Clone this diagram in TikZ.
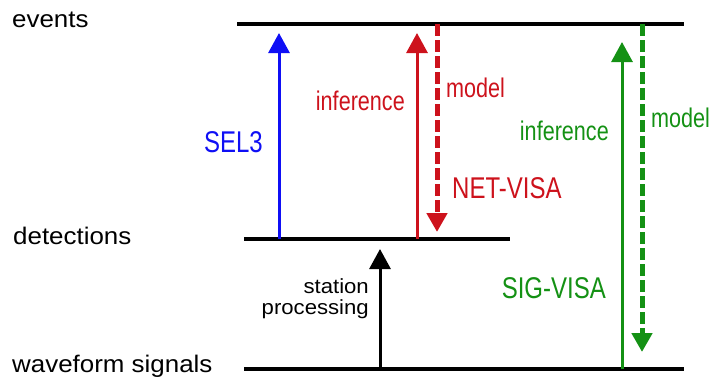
\documentclass[tikz,border=0pt]{standalone}
\usepackage{fontspec}
\setmainfont{Liberation Sans}
\newfontfamily\levelfont[FakeStretch=1.08]{Liberation Sans}
\newfontfamily\narrowfont[FakeStretch=0.8]{Liberation Sans}
\usetikzlibrary{arrows.meta}
\definecolor{selblue}{RGB}{15,15,245}
\definecolor{netred}{RGB}{205,18,28}
\definecolor{siggreen}{RGB}{20,145,20}

\begin{document}
\begin{tikzpicture}[x=1pt,y=-1pt,
    level/.style={line width=4pt},
    uparrow/.style={line width=3pt,-{Triangle[width=21pt,length=20pt]}},
    modelarrow/.style={line width=5pt,dash pattern=on 12pt off 4pt,-{Triangle[width=20pt,length=19pt]}},
    levellabel/.style={anchor=base west,inner sep=0pt,font=\levelfont\fontsize{24}{28}\selectfont},
    biglabel/.style={inner sep=0pt,font=\narrowfont\fontsize{30}{32}\selectfont},
    smalllabel/.style={inner sep=0pt,font=\narrowfont\fontsize{27}{30}\selectfont}]
                \useasboundingbox (0,0) rectangle (710,378);
                % Levels
                \coordinate (events west) at (237,24);
                \coordinate (events east) at (684,24);
                \coordinate (det west) at (244,239);
                \coordinate (det east) at (510,239);
                \coordinate (wave west) at (244,369);
                \coordinate (wave east) at (684,369);
                \draw[level] (events west) -- (events east);
                \draw[level] (det west) -- (det east);
                \draw[level] (wave west) -- (wave east);
                \node[levellabel] (events) at (12,27) {events};
                \node[levellabel] (detections) at (13,244) {detections};
                \node[levellabel] (waveforms) at (12,372) {waveform signals};
                
                % Station processing
                \coordinate (sp start) at (380,369);
                \coordinate (sp end) at (380,249);
                \draw[uparrow,black] (sp start) -- (sp end);
                \node[inner sep=0pt,anchor=east,align=right,font=\levelfont\fontsize{20.5}{21}\selectfont] (sp) at (369,299) {station\\processing};
                
                % SEL3
                \coordinate (sel start) at (279,239);
                \coordinate (sel end) at (279,33);
                \draw[uparrow,selblue] (sel start) -- (sel end);
                \node[biglabel,anchor=base east,text=selblue] (sel) at (263,152) {SEL3};
                
                % NET-VISA
                \coordinate (net inf start) at (417,239);
                \coordinate (net inf end) at (417,33);
                \coordinate (net mod start) at (437,24);
                \coordinate (net mod end) at (437,232);
                \draw[uparrow,netred] (net inf start) -- (net inf end);
                \draw[modelarrow,netred] (net mod start) -- (net mod end);
                \node[smalllabel,anchor=base east,text=netred] (net inf) at (405,110) {inference};
                \node[smalllabel,anchor=base west,text=netred] (net mod) at (446,97) {model};
                \node[biglabel,anchor=base west,text=netred] (net) at (452,198) {NET-VISA};
                
                % SIG-VISA
                \coordinate (sig inf start) at (622,369);
                \coordinate (sig inf end) at (622,42);
                \coordinate (sig mod start) at (642,24);
                \coordinate (sig mod end) at (642,352);
                \draw[uparrow,siggreen] (sig inf start) -- (sig inf end);
                \draw[modelarrow,siggreen] (sig mod start) -- (sig mod end);
                \node[smalllabel,anchor=base east,text=siggreen] (sig inf) at (609,140) {inference};
                \node[smalllabel,anchor=base west,text=siggreen] (sig mod) at (651,127) {model};
                \node[biglabel,anchor=base east,text=siggreen] (sig) at (606,298) {SIG-VISA};
            \end{tikzpicture}
\end{document}
